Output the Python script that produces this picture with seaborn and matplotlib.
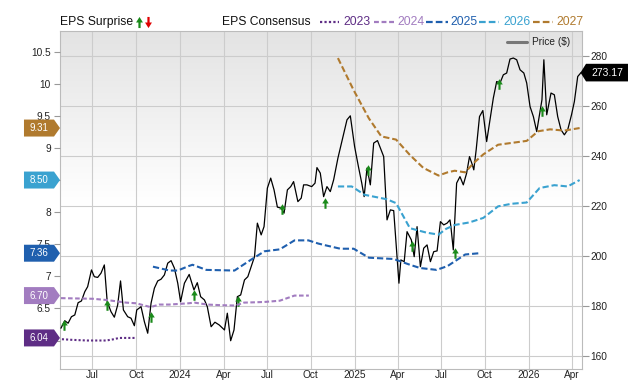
import numpy as np
import pandas as pd
import matplotlib
matplotlib.use("Agg")
import matplotlib.pyplot as plt
import seaborn as sns
from matplotlib.path import Path
from matplotlib.patches import Polygon
from matplotlib.lines import Line2D

# Price ($), right axis
price_dates = [
    "2023-04-26", "2023-05-04", "2023-05-11", "2023-05-18", "2023-05-25", "2023-06-01", "2023-06-08",
    "2023-06-15", "2023-06-21", "2023-06-29", "2023-07-05", "2023-07-12", "2023-07-19", "2023-07-26",
    "2023-08-01", "2023-08-09", "2023-08-16", "2023-08-23", "2023-08-29", "2023-09-04", "2023-09-13",
    "2023-09-20", "2023-09-27", "2023-10-02", "2023-10-11", "2023-10-18", "2023-10-25", "2023-11-01",
    "2023-11-08", "2023-11-15", "2023-11-22", "2023-11-29", "2023-12-06", "2023-12-13", "2023-12-20",
    "2023-12-27", "2024-01-02", "2024-01-10", "2024-01-20", "2024-01-30", "2024-02-06", "2024-02-13",
    "2024-02-21", "2024-02-27", "2024-03-06", "2024-03-14", "2024-03-23", "2024-04-03", "2024-04-09",
    "2024-04-16", "2024-04-23", "2024-04-30", "2024-05-07", "2024-05-15", "2024-05-22", "2024-05-29",
    "2024-06-05", "2024-06-11", "2024-06-19", "2024-06-25", "2024-07-02", "2024-07-09", "2024-07-16",
    "2024-07-23", "2024-07-31", "2024-08-06", "2024-08-13", "2024-08-20", "2024-08-26", "2024-09-04",
    "2024-09-11", "2024-09-16", "2024-09-23", "2024-10-03", "2024-10-10", "2024-10-14", "2024-10-21",
    "2024-10-28", "2024-11-04", "2024-11-11", "2024-11-18", "2024-11-27", "2024-12-07", "2024-12-16",
    "2024-12-23", "2025-01-01", "2025-01-09", "2025-01-16", "2025-01-21", "2025-01-27", "2025-02-03",
    "2025-02-10", "2025-02-18", "2025-02-24", "2025-03-03", "2025-03-10", "2025-03-17", "2025-03-24",
    "2025-04-04", "2025-04-08", "2025-04-15", "2025-04-21", "2025-04-30", "2025-05-06", "2025-05-12",
    "2025-05-19", "2025-05-26", "2025-06-02", "2025-06-09", "2025-06-16", "2025-06-23", "2025-06-30",
    "2025-07-07", "2025-07-14", "2025-07-20", "2025-07-22", "2025-07-27", "2025-08-03", "2025-08-10",
    "2025-08-17", "2025-08-24", "2025-08-30", "2025-09-05", "2025-09-08", "2025-09-13", "2025-09-20",
    "2025-09-27", "2025-10-05", "2025-10-12", "2025-10-19", "2025-10-26", "2025-11-02", "2025-11-09",
    "2025-11-16", "2025-11-23", "2025-11-30", "2025-12-07", "2025-12-14", "2025-12-22", "2025-12-28",
    "2026-01-04", "2026-01-11", "2026-01-18", "2026-01-25", "2026-01-29", "2026-02-02", "2026-02-08",
    "2026-02-17", "2026-02-24", "2026-03-03", "2026-03-10", "2026-03-17", "2026-03-24", "2026-04-01",
    "2026-04-07", "2026-04-14", "2026-04-21",
]
price_values = [
    171.0, 174.0, 173.0, 175.6, 176.3, 181.2, 181.9,
    185.6, 187.6, 194.3, 191.6, 191.3, 193.0, 196.3,
    181.6, 177.6, 175.4, 180.3, 189.9, 178.3, 175.6,
    175.0, 172.0, 178.3, 179.6, 173.6, 169.0, 181.0,
    187.0, 189.9, 190.6, 192.3, 197.0, 198.0, 195.0,
    189.0, 181.6, 189.0, 192.5, 186.3, 189.2, 183.6,
    182.3, 179.6, 171.6, 173.4, 172.3, 170.3, 177.0,
    166.0, 170.3, 183.6, 184.3, 190.3, 191.6, 195.6,
    199.6, 213.0, 208.3, 211.6, 227.0, 231.0, 226.3,
    219.4, 219.0, 217.0, 226.3, 227.6, 229.6, 221.6,
    223.0, 228.3, 228.3, 227.6, 229.0, 235.2, 233.0,
    223.6, 227.6, 225.6, 230.3, 239.0, 247.0, 254.3,
    255.9, 243.6, 235.6, 229.0, 223.6, 235.0, 228.3,
    245.0, 246.0, 243.0, 239.6, 214.3, 218.3, 218.0,
    189.0, 198.3, 197.6, 209.6, 206.3, 199.6, 211.6,
    195.6, 203.0, 204.3, 197.6, 201.6, 201.9, 213.6,
    212.3, 213.0, 214.3, 211.6, 202.3, 229.0, 231.6,
    228.3, 233.0, 239.6, 236.3, 234.3, 242.3, 255.6,
    258.0, 245.6, 254.3, 263.0, 269.6, 269.0, 272.3,
    273.0, 278.6, 279.0, 278.3, 274.3, 273.0, 269.0,
    259.6, 255.6, 249.6, 257.6, 262.3, 278.3, 256.3,
    265.0, 264.3, 255.6, 250.3, 248.3, 250.3, 256.3,
    261.6, 271.6, 273.17,
]

# EPS consensus per fiscal year, left axis
eps_2023_dates = ["2023-04-28", "2023-05-20", "2023-06-20", "2023-07-30", "2023-08-15", "2023-08-26",
                  "2023-09-15", "2023-09-30"]
eps_2023_values = [6.02, 6.01, 6.00, 6.00, 6.02, 6.04, 6.04, 6.04]

eps_2024_dates = ["2023-04-26", "2023-07-02", "2023-08-01", "2023-09-10", "2023-10-01", "2023-10-31",
                  "2023-11-18", "2023-12-09", "2024-01-19", "2024-01-31", "2024-02-27", "2024-03-27",
                  "2024-04-26", "2024-05-14", "2024-06-25", "2024-07-28", "2024-08-28", "2024-09-27"]
eps_2024_values = [6.66, 6.65, 6.63, 6.59, 6.58, 6.52, 6.56, 6.56, 6.58, 6.59, 6.56, 6.55,
                   6.545, 6.59, 6.60, 6.62, 6.70, 6.70]

eps_2025_dates = ["2023-11-05", "2023-12-10", "2023-12-27", "2024-01-19", "2024-01-27", "2024-02-25",
                  "2024-04-24", "2024-05-29", "2024-06-26", "2024-07-28", "2024-08-28", "2024-09-26",
                  "2024-10-17", "2024-10-28", "2024-12-02", "2024-12-30", "2025-01-31", "2025-03-24",
                  "2025-04-27", "2025-05-18", "2025-06-22", "2025-07-15", "2025-08-21", "2025-09-20"]
eps_2025_values = [7.15, 7.09, 7.09, 7.16, 7.18, 7.10, 7.09, 7.26, 7.39, 7.42, 7.56, 7.56,
                   7.51, 7.49, 7.43, 7.43, 7.29, 7.27, 7.18, 7.13, 7.10, 7.16, 7.34, 7.36]

eps_2026_dates = ["2024-11-27", "2024-12-26", "2025-01-22", "2025-03-10", "2025-03-29", "2025-04-27",
                  "2025-06-01", "2025-06-26", "2025-07-12", "2025-07-30", "2025-08-30", "2025-09-28",
                  "2025-10-29", "2025-11-26", "2025-12-28", "2026-01-24", "2026-02-24", "2026-03-24",
                  "2026-04-18"]
eps_2026_values = [8.40, 8.40, 8.27, 8.20, 8.14, 7.75, 7.68, 7.65, 7.74, 7.80, 7.84, 7.91,
                   8.09, 8.13, 8.15, 8.375, 8.42, 8.40, 8.50]

eps_2027_dates = ["2024-11-27", "2024-12-30", "2025-01-31", "2025-02-26", "2025-03-29", "2025-04-27",
                  "2025-05-25", "2025-06-26", "2025-07-15", "2025-07-30", "2025-08-21", "2025-09-07",
                  "2025-09-28", "2025-10-29", "2025-12-28", "2026-01-21", "2026-02-15", "2026-03-17",
                  "2026-04-18"]
eps_2027_values = [10.40, 9.90, 9.46, 9.18, 9.13, 8.89, 8.69, 8.57, 8.62, 8.645, 8.62, 8.76,
                   8.90, 9.05, 9.11, 9.26, 9.29, 9.27, 9.31]

# EPS surprise markers (all beats), placed on the price scale
surprise_dates = ["2023-05-03", "2023-08-01", "2023-11-01", "2024-01-30", "2024-05-01", "2024-08-01",
                  "2024-10-30", "2025-01-30", "2025-05-01", "2025-07-31", "2025-10-30", "2026-01-29"]
surprise_levels = [172.3, 180.3, 175.5, 184.3, 181.9, 218.7, 221.2, 234.3, 203.9, 201.0, 268.7, 257.9]

tick_dates = ["2023-07-01", "2023-10-01", "2024-01-01", "2024-04-01", "2024-07-01", "2024-10-01",
              "2025-01-01", "2025-04-01", "2025-07-01", "2025-10-01", "2026-01-01", "2026-04-01"]
tick_labels = ["Jul", "Oct", "2024", "Apr", "Jul", "Oct", "2025", "Apr", "Jul", "Oct", "2026", "Apr"]

series = [
    ("2023", eps_2023_dates, eps_2023_values, "#5e2d85", (0, (1, 1))),
    ("2024", eps_2024_dates, eps_2024_values, "#a27cc0", (0, (2.2, 1.2))),
    ("2025", eps_2025_dates, eps_2025_values, "#1f5fae", (0, (3, 1.4))),
    ("2026", eps_2026_dates, eps_2026_values, "#3aa2d0", (0, (3, 1.4))),
    ("2027", eps_2027_dates, eps_2027_values, "#b07a2e", (0, (3, 1.4))),
]

sns.set_theme(style="white")
plt.rcParams['font.family'] = ['Liberation Sans', 'DejaVu Sans']

W, H = 640, 382
fig = plt.figure(figsize=(6.4, 3.82), dpi=100)


def fx(px):
    return px / W


def fy(py):
    return 1 - py / H


ax = fig.add_axes([60 / W, 13 / H, 522 / W, 338 / H])
ax2 = ax.twinx()
ax.yaxis.tick_right()
ax2.yaxis.tick_left()

# price line + surprise arrows on the right-hand scale
sns.lineplot(x=pd.to_datetime(price_dates), y=price_values, ax=ax, color="black", lw=0.9, zorder=3)

arrow_up = Path([(-0.2, -1), (0.2, -1), (0.2, 0), (0.62, 0), (0, 1), (-0.62, 0), (-0.2, 0), (-0.2, -1)],
                [Path.MOVETO] + [Path.LINETO] * 6 + [Path.CLOSEPOLY])
arrow_down = Path(arrow_up.vertices * [1, -1], arrow_up.codes)

sns.scatterplot(x=pd.to_datetime(surprise_dates), y=surprise_levels, ax=ax, marker=arrow_up,
                s=58, color="#1a8a1a", linewidth=0, zorder=4)

# EPS consensus lines on the left-hand scale
for name, d, v, c, ls in series:
    sns.lineplot(x=pd.to_datetime(d), y=v, ax=ax2, color=c, lw=1.5, linestyle=ls)

xmin, xmax = pd.Timestamp("2023-04-24"), pd.Timestamp("2026-04-23")
ax.set_xlim(xmin, xmax)
ax.set_ylim(154.7, 289.8)
ax2.set_ylim(5.556, 10.822)

# background gradient, grey at top fading to white
ax.set_autoscale_on(False)
frac = np.linspace(0, 1, 256)
shade = np.clip((frac - 0.49) / 0.51, 0, 1)
top = np.array([0.89, 0.89, 0.89])
img = 1 + (top - 1) * shade[:, None]
ax.imshow(img[:, None, :], extent=[0, 1, 0, 1], transform=ax.transAxes, aspect="auto",
          origin="lower", zorder=0)

ax.set_xticks(pd.to_datetime(tick_dates))
ax.set_xticklabels(tick_labels)
ax.set_yticks(np.arange(160, 281, 20))
ax2.set_yticks(np.arange(6, 10.51, 0.5))
ax2.set_yticklabels([f"{t:g}" for t in np.arange(6, 10.51, 0.5)])
ax.set_xlim(xmin, xmax)

ax.set_axisbelow(True)
ax.grid(True, color="#cccccc", lw=0.8)
ax2.grid(False)
ax.set_xlabel("")
ax.set_ylabel("")
ax2.set_ylabel("")

ax.tick_params(axis="x", length=0, pad=1, labelsize=7.3, labelcolor="#222222")
ax.tick_params(axis="y", right=True, left=False, length=4.7, width=0.8, color="#999999",
               pad=1.5, labelsize=7.3, labelcolor="#222222")
ax2.tick_params(axis="y", left=True, right=False, length=4.5, width=0.8, color="#999999",
                pad=2, labelsize=7.3, labelcolor="#222222")
for s in ax.spines.values():
    s.set_color("#bbbbbb")
    s.set_linewidth(0.8)
for s in ax2.spines.values():
    s.set_visible(False)

# last-value tags on the left
tr = ax2.get_yaxis_transform()
for name, d, v, c, ls in series:
    val = v[-1]
    hh = 8.5 / 64.3
    poly = Polygon([(-0.069, val - hh), (-0.0115, val - hh), (0, val), (-0.0115, val + hh),
                    (-0.069, val + hh)], closed=True, transform=tr, facecolor=c, edgecolor="none",
                   clip_on=False, zorder=10)
    ax2.add_patch(poly)
    ax2.text(-0.040, val, f"{val:.2f}", transform=tr, ha="center", va="center", color="white",
             fontsize=7, zorder=11, clip_on=False)

# last price tag on the right
trp = ax.get_yaxis_transform()
last = price_values[-1]
hp = 8.8 / 2.5
ax.add_patch(Polygon([(0.9971, last), (1.0077, last - hp), (1.0881, last - hp), (1.0881, last + hp),
                      (1.0077, last + hp)], closed=True, transform=trp, facecolor="black",
                     edgecolor="none", clip_on=False, zorder=10))
ax.text(1.048, last, f"{last:.2f}", transform=trp, ha="center", va="center", color="white",
        fontsize=7.5, zorder=11, clip_on=False)

# price legend inside the plot
fig.add_artist(Line2D([fx(506.7), fx(526.7)], [fy(41.7), fy(41.7)], color="#777777", lw=2.2,
                      transform=fig.transFigure))
fig.text(fx(531.7), fy(41.7), "Price ($)", fontsize=7.3, ha="left", va="center", color="#222222")

# header legend
ty = fy(22)
fig.text(fx(60), ty, "EPS Surprise", fontsize=8.7, ha="left", va="center", color="#111111")
fig.add_artist(Line2D([fx(138.5)], [ty], marker=arrow_up, markersize=8, color="#1a8a1a",
                      markeredgewidth=0, linestyle="none", transform=fig.transFigure))
fig.add_artist(Line2D([fx(148)], [ty], marker=arrow_down, markersize=8, color="#e00000",
                      markeredgewidth=0, linestyle="none", transform=fig.transFigure))
fig.text(fx(222), ty, "EPS Consensus", fontsize=8.7, ha="left", va="center", color="#111111")
legend_pos = [(320, 339, 343.5), (374, 394, 397), (426, 448, 450), (479, 499, 503), (533, 553, 556.5)]
for (name, d, v, c, ls), (x1, x2, xt) in zip(series, legend_pos):
    fig.add_artist(Line2D([fx(x1), fx(x2)], [ty, ty], color=c, lw=1.6, linestyle=ls,
                          transform=fig.transFigure))
    fig.text(fx(xt), ty, name, fontsize=8.7, ha="left", va="center", color=c)

fig.savefig("out.png", dpi=100)
